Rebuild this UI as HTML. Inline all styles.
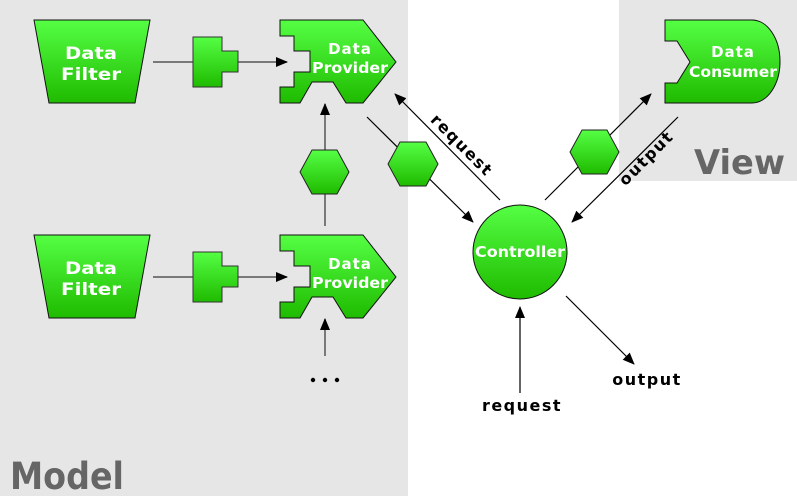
<!DOCTYPE html>
<html><head><meta charset="utf-8"><style>
html,body{margin:0;padding:0;background:#fff;}
svg{display:block;}
text{font-family:"DejaVu Sans","Liberation Sans",sans-serif;font-weight:bold;}
.w{fill:#fff;font-size:15px;}
.b{fill:#000;font-size:16px;letter-spacing:1.5px;}
</style></head><body>
<svg width="797" height="496" viewBox="0 0 797 496" xmlns="http://www.w3.org/2000/svg">
<defs>
<linearGradient id="g" x1="0" y1="0" x2="0" y2="1"><stop offset="0" stop-color="#55ff44"/><stop offset="1" stop-color="#1fbb00"/></linearGradient>
<marker id="a" markerWidth="12" markerHeight="10" refX="11" refY="5" orient="auto" markerUnits="userSpaceOnUse"><path d="M0,0 L12,5 L0,10 Z" fill="#000"/></marker>
<g id="filter"><path d="M34,20 L150,20 L135,103 L49,103 Z" fill="url(#g)" stroke="#111" stroke-width="1"/>
<text class="w" x="91" y="59" text-anchor="middle" style="font-size:17px" textLength="52" lengthAdjust="spacingAndGlyphs">Data</text><text class="w" x="91" y="80" text-anchor="middle" style="font-size:17px" textLength="60" lengthAdjust="spacingAndGlyphs">Filter</text></g>
<g id="conn"><path d="M193,37 L222,37 L222,51 L238,51 L238,72 L222,72 L222,87 L193,87 Z" fill="url(#g)" stroke="#333" stroke-width="1"/></g>
<g id="prov"><path d="M280,20 L363,20 L396,62 L363,103 L346,103 L333,82 L312,82 L300,103 L280,103 L280,87 L294,87 L294,72 L310,72 L310,51 L294,51 L294,36 L280,36 Z" fill="url(#g)" stroke="#111" stroke-width="1"/>
<text class="w" x="350" y="54" text-anchor="middle" style="letter-spacing:1px">Data</text><text class="w" x="350" y="73" text-anchor="middle" textLength="76" lengthAdjust="spacingAndGlyphs">Provider</text></g>
</defs>
<rect x="0" y="0" width="408" height="496" fill="#e6e6e6"/>
<rect x="619" y="0" width="178" height="181" fill="#e6e6e6"/>
<text x="10" y="489" font-size="37" fill="#666" textLength="114" lengthAdjust="spacingAndGlyphs">Model</text>
<text x="694" y="174" font-size="34" fill="#666" textLength="91" lengthAdjust="spacingAndGlyphs">View</text>

<g stroke="#555" stroke-width="1.5" fill="none">
<line x1="153" y1="62" x2="193" y2="62"/><line x1="238" y1="62" x2="287" y2="62" marker-end="url(#a)"/>
<line x1="153" y1="277" x2="193" y2="277"/><line x1="238" y1="277" x2="287" y2="277" marker-end="url(#a)"/>
<line x1="325" y1="226" x2="325" y2="104" marker-end="url(#a)"/>
<line x1="325" y1="356" x2="325" y2="319" marker-end="url(#a)"/>
</g>
<g stroke="#000" stroke-width="1.2" fill="none">
<line x1="367" y1="117" x2="473" y2="222" marker-end="url(#a)"/>
<line x1="500" y1="200" x2="395" y2="94" marker-end="url(#a)"/>
<line x1="545" y1="200" x2="651" y2="94" marker-end="url(#a)"/>
<line x1="678" y1="117" x2="572" y2="222" marker-end="url(#a)"/>
<line x1="566" y1="296" x2="634" y2="364" marker-end="url(#a)"/>
<line x1="520" y1="393" x2="520" y2="307" marker-end="url(#a)"/>
</g>

<use href="#filter"/><use href="#conn"/><use href="#prov"/>
<g transform="translate(0,215)"><use href="#filter"/><use href="#conn"/><use href="#prov"/></g>

<polygon points="312,150 337,150 349,172 337,194 312,194 300,172" fill="url(#g)" stroke="#222"/>
<polygon points="400,142 426,142 438,164 426,186 400,186 388,164" fill="url(#g)" stroke="#222"/>
<polygon points="582,130 607,130 619,152 607,174 582,174 570,152" fill="url(#g)" stroke="#222"/>

<path d="M665,20 L752,20 A28,41.5 0 0 1 752,103 L665,103 L665,83 L677,83 L690,62 L677,41 L665,41 Z" fill="url(#g)" stroke="#111"/>
<text class="w" x="733" y="57" text-anchor="middle" style="letter-spacing:1px">Data</text>
<text class="w" x="733" y="77" text-anchor="middle" textLength="88" lengthAdjust="spacingAndGlyphs">Consumer</text>

<circle cx="520" cy="252" r="47" fill="url(#g)" stroke="#111"/>
<text class="w" x="520" y="257" text-anchor="middle" textLength="90" lengthAdjust="spacingAndGlyphs">Controller</text>

<text class="b" transform="translate(458,149) rotate(45)" text-anchor="middle">request</text>
<text class="b" transform="translate(650,162) rotate(-45)" text-anchor="middle">output</text>
<text class="b" x="647" y="385" text-anchor="middle">output</text>
<text class="b" x="522" y="411" text-anchor="middle">request</text>
<circle cx="313" cy="380" r="2.2" fill="#000"/><circle cx="325" cy="380" r="2.2" fill="#000"/><circle cx="337" cy="380" r="2.2" fill="#000"/>
</svg>
</body></html>
